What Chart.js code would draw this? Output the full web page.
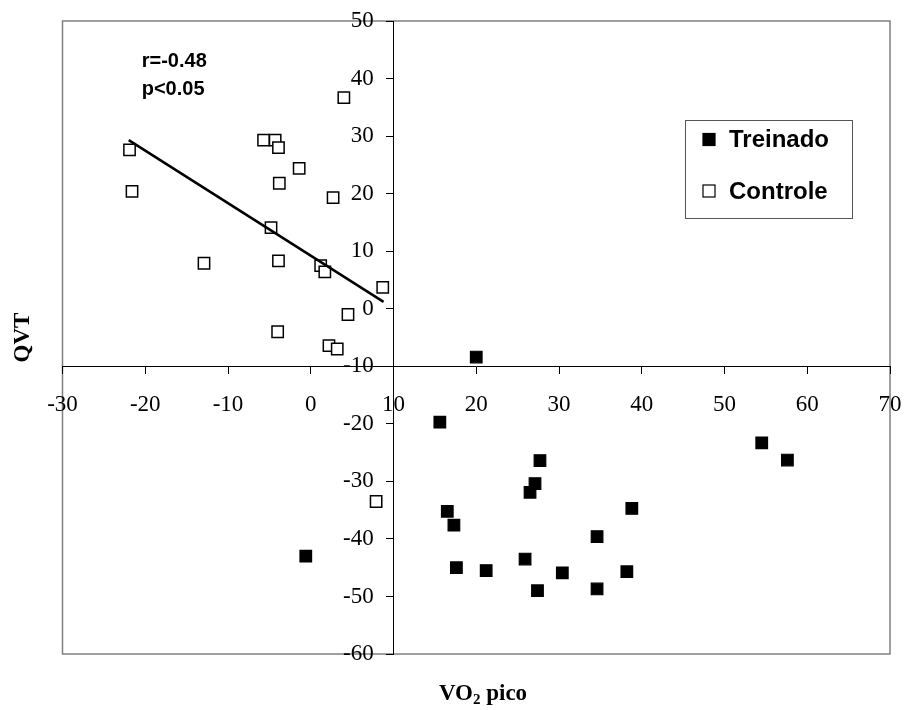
<!DOCTYPE html>
<html><head><meta charset="utf-8">
<script src="https://cdn.jsdelivr.net/npm/chart.js@4/dist/chart.umd.min.js"></script>
<style>html,body{margin:0;padding:0;background:#fff}</style>
</head><body>
<canvas id="c" width="906" height="710" style="width:906px;height:710px;display:block"></canvas>
<script>
// ---- data ----
const controleX = [-21.9, -21.6, -12.9, -5.7, -4.3, -3.9, -3.8, -1.4, 2.7, 4.0, -4.8, -3.9, 1.2, 1.7, 8.7, 4.5, -4.0, 2.2, 3.2, 7.9];
const controleY = [27.6, 20.4, 7.9, 29.3, 29.3, 28.0, 21.8, 24.4, 19.3, 36.7, 14.1, 8.3, 7.5, 6.4, 3.7, -1.0, -4.0, -6.4, -7.0, -33.5];
const treinadoX = [20.0, 15.6, -0.6, 16.5, 17.3, 17.6, 21.2, 25.9, 27.4, 26.5, 27.1, 27.7, 30.4, 34.6, 34.6, 38.2, 38.8, 54.5, 57.6];
const treinadoY = [-8.4, -19.7, -43.0, -35.2, -37.6, -45.0, -45.5, -43.5, -49.0, -31.9, -30.4, -26.4, -45.9, -39.6, -48.7, -45.7, -34.7, -23.3, -26.3];
const trendX = [-22.0, 8.8];
const trendY = [29.3, 1.2];
const xTicks = [-30, -20, -10, 0, 10, 20, 30, 40, 50, 60, 70];
const yTicks = [50, 40, 30, 20, 10, 0, -10, -20, -30, -40, -50, -60];
const seriesNames = ['Treinado', 'Controle'];
const annotationLines = ['r=-0.48', 'p<0.05'];
const xTitle = ['VO', '2', ' pico'];
const yTitle = 'QVT';
// axes cross at x = 10, y = -10
const crossX = 10;
const crossY = -10;

const toPts = (xs, ys) => xs.map((x, i) => ({x: x, y: ys[i]}));

const SERIF = '"Liberation Serif", "Times New Roman", serif';
const SANS = '"Liberation Sans", Arial, sans-serif';

const frame = {
  id: 'frame',
  beforeDraw(chart) {
    const {ctx, chartArea: a} = chart;
    ctx.save();
    ctx.fillStyle = '#fff';
    ctx.fillRect(0, 0, chart.width, chart.height);
    ctx.strokeStyle = '#808080';
    ctx.lineWidth = 1.5;
    ctx.strokeRect(a.left, a.top, a.right - a.left, a.bottom - a.top);
    ctx.restore();
  },
  afterDraw(chart) {
    const {ctx, chartArea: a} = chart;
    ctx.save();
    // annotation
    ctx.fillStyle = '#000';
    ctx.font = 'bold 20px ' + SANS;
    ctx.textBaseline = 'alphabetic';
    ctx.textAlign = 'left';
    ctx.fillText(annotationLines[0], 141.7, 66.5);
    ctx.fillText(annotationLines[1], 141.7, 95);
    // legend
    ctx.strokeStyle = '#555';
    ctx.lineWidth = 1;
    ctx.strokeRect(685.5, 120.5, 167, 98);
    const ds = chart.data.datasets.filter(d => seriesNames.includes(d.label));
    ctx.font = 'bold 24px ' + SANS;
    ds.forEach((d, i) => {
      const cy = 139.5 + i * 51.5;
      ctx.fillStyle = d.backgroundColor;
      ctx.fillRect(703, cy - 6, 12, 12);
      ctx.strokeStyle = d.borderColor;
      ctx.lineWidth = 1.2;
      ctx.strokeRect(703, cy - 6, 12, 12);
      ctx.fillStyle = '#000';
      ctx.fillText(d.label, 729, cy + 7.5);
    });
    // axis titles
    ctx.font = 'bold 23px ' + SERIF;
    ctx.save();
    ctx.translate(29, (a.top + a.bottom) / 2);
    ctx.rotate(-Math.PI / 2);
    ctx.textAlign = 'center';
    ctx.fillText(yTitle, 0, 0);
    ctx.restore();
    const w1 = ctx.measureText(xTitle[0]).width;
    ctx.font = 'bold 15px ' + SERIF;
    const w2 = ctx.measureText(xTitle[1]).width;
    ctx.font = 'bold 23px ' + SERIF;
    const w3 = ctx.measureText(xTitle[2]).width;
    let x0 = 483 - (w1 + w2 + w3) / 2;
    const by = 700;
    ctx.textAlign = 'left';
    ctx.fillText(xTitle[0], x0, by);
    ctx.font = 'bold 15px ' + SERIF;
    ctx.fillText(xTitle[1], x0 + w1, by + 4);
    ctx.font = 'bold 23px ' + SERIF;
    ctx.fillText(xTitle[2], x0 + w1 + w2, by);
    ctx.restore();
  }
};

const tickFont = { family: SERIF, size: 23 };

new Chart(document.getElementById('c'), {
  type: 'scatter',
  data: {
    datasets: [
      {
        label: seriesNames[0],
        data: toPts(treinadoX, treinadoY),
        pointStyle: 'rect', pointRadius: 8.2, borderWidth: 1.2,
        backgroundColor: '#000', borderColor: '#000', order: 2
      },
      {
        label: seriesNames[1],
        data: toPts(controleX, controleY),
        pointStyle: 'rect', pointRadius: 8, borderWidth: 1.5,
        backgroundColor: '#fff', borderColor: '#000', order: 2
      },
      {
        label: 'trend',
        type: 'line',
        data: toPts(trendX, trendY),
        showLine: true, pointRadius: 0, borderWidth: 2.5,
        borderColor: '#000', backgroundColor: '#000', fill: false, order: 1
      }
    ]
  },
  options: {
    responsive: false,
    devicePixelRatio: 1,
    animation: false,
    events: [],
    layout: { padding: { left: 62.5, right: 16, top: 21, bottom: 56 } },
    plugins: { legend: { display: false }, tooltip: { enabled: false } },
    scales: {
      x: {
        type: 'linear', min: -30, max: 70,
        position: { y: crossY },
        afterBuildTicks: s => { s.ticks = xTicks.map(v => ({value: v})); },
        afterFit: s => { s.height = 0; s.paddingLeft = 0; s.paddingRight = 0; s.paddingTop = 0; s.paddingBottom = 0; },
        ticks: { autoSkip: false, maxRotation: 0, color: '#000', padding: 18, font: tickFont },
        grid: { drawOnChartArea: false, tickLength: 7, color: '#000', lineWidth: 1 },
        border: { color: '#000', width: 1 }
      },
      y: {
        type: 'linear', min: -60, max: 50,
        position: { x: crossX },
        afterBuildTicks: s => { s.ticks = yTicks.map(v => ({value: v})); },
        afterFit: s => { s.width = 0; s.paddingLeft = 0; s.paddingRight = 0; s.paddingTop = 0; s.paddingBottom = 0; },
        ticks: { display: false, autoSkip: false },
        grid: { drawOnChartArea: false, tickLength: 7, color: '#000', lineWidth: 1 },
        border: { color: '#000', width: 1 }
      },
      yLabels: {
        type: 'linear', axis: 'y', min: -60, max: 50,
        position: { x: 7.6 },
        afterBuildTicks: s => { s.ticks = yTicks.map(v => ({value: v})); },
        afterFit: s => { s.width = 0; s.paddingLeft = 0; s.paddingRight = 0; s.paddingTop = 0; s.paddingBottom = 0; },
        ticks: { autoSkip: false, color: '#000', padding: 0, font: tickFont },
        grid: { display: false, drawTicks: false },
        border: { display: false }
      }
    }
  },
  plugins: [frame]
});
</script>
</body></html>
